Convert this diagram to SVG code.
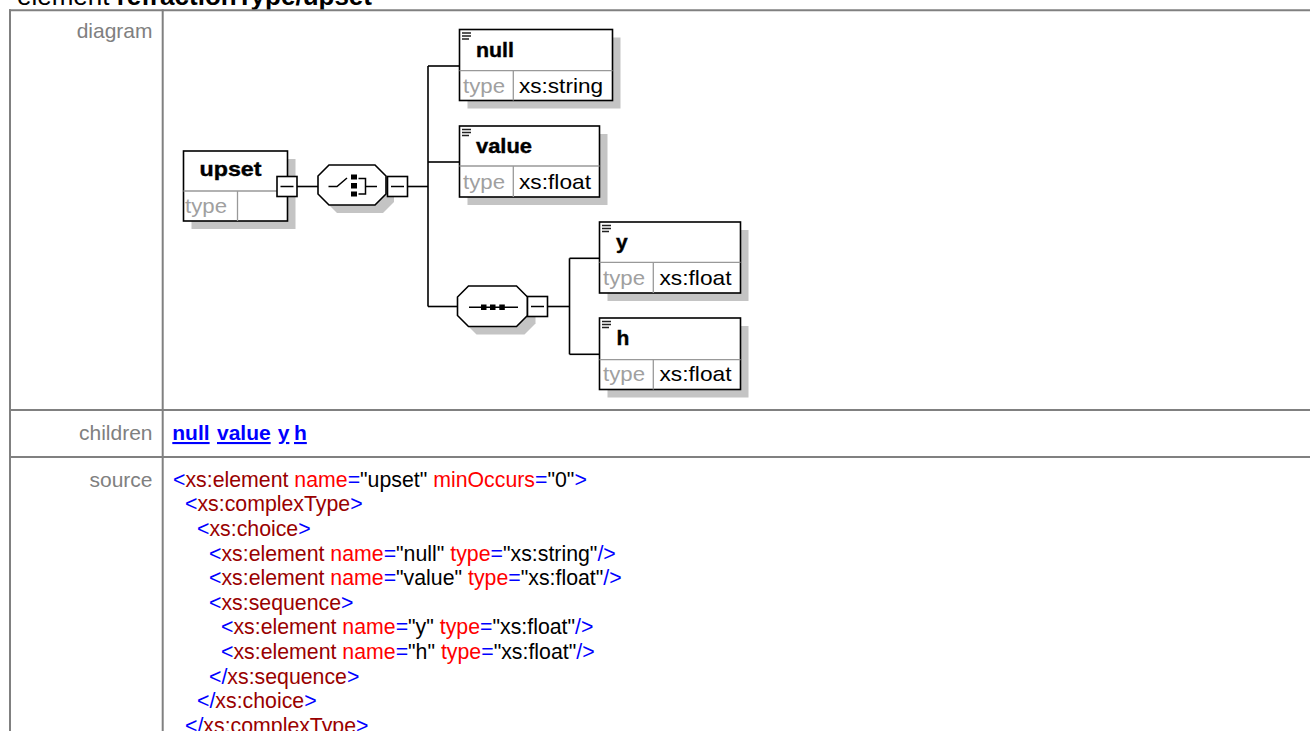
<svg xmlns="http://www.w3.org/2000/svg" width="1310" height="731" viewBox="0 0 1310 731">
  <style>
    .frame { stroke: #808080; stroke-width: 2; fill: none; }
    .label { font-family: "Liberation Sans", Arial, sans-serif; font-size: 21px; fill: #808080; text-anchor: end; }
    .title { font-family: "Liberation Sans", Arial, sans-serif; font-size: 26px; fill: #000; }
    .link { font-family: "Liberation Sans", Arial, sans-serif; font-size: 21px; font-weight: bold; fill: #0000ff; text-decoration: underline; }
    .src { font-family: "Liberation Sans", Arial, sans-serif; font-size: 21.3px; fill: #000; }
    .m { fill: #0000ff; }
    .el { fill: #990000; }
    .at { fill: #ff0000; }
    .shadow { fill: #c4c4c4; stroke: none; }
    .box { fill: #fff; stroke: #000; stroke-width: 1.6; }
    .sep { stroke: #999; stroke-width: 1.3; fill: none; }
    .wire { stroke: #000; stroke-width: 1.6; fill: none; }
    .name { font-family: "Liberation Sans", Arial, sans-serif; font-size: 21px; font-weight: bold; fill: #000; stroke: #000; stroke-width: 0.4; }
    .tkey { font-family: "Liberation Sans", Arial, sans-serif; font-size: 21px; fill: #a0a0a0; }
    .tval { font-family: "Liberation Sans", Arial, sans-serif; font-size: 21px; fill: #000; }
    .icon { stroke: #000; stroke-width: 1.5; fill: none; }
    .doc { stroke: #222; stroke-width: 1.6; fill: none; }
  </style>

  <!-- page heading (scrolled partly out of view) -->
  <text class="title" x="17" y="5"><tspan>element </tspan><tspan font-weight="bold">refractionType/upset</tspan></text>

  <!-- documentation table frame -->
  <g id="table">
    <line class="frame" x1="9" y1="10.3" x2="1310" y2="10.3"/>
    <line class="frame" x1="10" y1="9.3" x2="10" y2="731"/>
    <line class="frame" x1="162.7" y1="9.3" x2="162.7" y2="731"/>
    <line class="frame" x1="9" y1="410" x2="1310" y2="410"/>
    <line class="frame" x1="9" y1="457" x2="1310" y2="457"/>
    <text class="label" x="152.5" y="38.3">diagram</text>
    <text class="label" x="152.5" y="440">children</text>
    <text class="label" x="152.5" y="486.7">source</text>
  </g>

  <!-- connectors -->
  <g id="connectors">
    <line class="wire" x1="297" y1="186.5" x2="318" y2="186.5"/>
    <line class="wire" x1="407.5" y1="186.5" x2="428" y2="186.5"/>
    <line class="wire" x1="428" y1="66" x2="428" y2="306.5"/>
    <line class="wire" x1="428" y1="66" x2="459.5" y2="66"/>
    <line class="wire" x1="428" y1="162" x2="459.5" y2="162"/>
    <line class="wire" x1="428" y1="306.5" x2="457.5" y2="306.5"/>
    <line class="wire" x1="547.5" y1="306.5" x2="569.5" y2="306.5"/>
    <line class="wire" x1="569.5" y1="258.3" x2="569.5" y2="354.3"/>
    <line class="wire" x1="569.5" y1="258.3" x2="599.5" y2="258.3"/>
    <line class="wire" x1="569.5" y1="354.3" x2="599.5" y2="354.3"/>
  </g>

  <!-- root element -->
  <g id="node-upset">
    <rect class="shadow" x="191.5" y="159" width="104" height="70"/>
    <rect class="box" x="183.5" y="151" width="104" height="70"/>
    <line class="sep" x1="183.5" y1="191" x2="287.5" y2="191"/>
    <line class="sep" x1="237.5" y1="191" x2="237.5" y2="221"/>
    <text class="name" x="199.5" y="176" textLength="62" lengthAdjust="spacingAndGlyphs">upset</text>
    <text class="tkey" x="185" y="213" textLength="42" lengthAdjust="spacingAndGlyphs">type</text>
    <rect class="box" x="277" y="176.5" width="20" height="20"/>
    <line class="icon" x1="280.5" y1="186.5" x2="293.5" y2="186.5"/>
  </g>

  <!-- choice compositor -->
  <g id="node-choice">
    <polygon class="shadow" points="337,173 383,173 394,184 394,202 383,213 337,213 326,202 326,184"/>
    <polygon class="box" points="329,165 375,165 386,176 386,194 375,205 329,205 318,194 318,176"/>
    <path class="icon" d="M328.5,186.5 H337 L347,178"/>
    <rect x="351" y="174.5" width="6" height="5" fill="#000"/>
    <rect x="351" y="183" width="6" height="5.5" fill="#000"/>
    <rect x="351" y="191.5" width="6" height="5" fill="#000"/>
    <path class="icon" d="M358.5,178.5 H365.5 V194 H358.5 M365.5,186.5 H377"/>
    <rect class="box" x="387.5" y="176.5" width="20" height="20"/>
    <line class="icon" x1="391" y1="186.5" x2="404" y2="186.5"/>
  </g>

  <!-- element null -->
  <g id="node-null">
    <rect class="shadow" x="467.5" y="37.5" width="153" height="71"/>
    <rect class="box" x="459.5" y="29.5" width="153" height="71"/>
    <line class="sep" x1="459.5" y1="70.7" x2="612.5" y2="70.7"/>
    <line class="sep" x1="513.3" y1="70.7" x2="513.3" y2="100.5"/>
    <path class="doc" d="M462,33 H471 M462,36 H471 M462,39 H469"/>
    <text class="name" x="476" y="57.3" textLength="38" lengthAdjust="spacingAndGlyphs">null</text>
    <text class="tkey" x="463" y="92.5" textLength="42" lengthAdjust="spacingAndGlyphs">type</text>
    <text class="tval" x="519" y="92.5" textLength="84" lengthAdjust="spacingAndGlyphs">xs:string</text>
  </g>

  <!-- element value -->
  <g id="node-value">
    <rect class="shadow" x="467.5" y="134" width="140" height="71"/>
    <rect class="box" x="459.5" y="126" width="140" height="71"/>
    <line class="sep" x1="459.5" y1="166" x2="599.5" y2="166"/>
    <line class="sep" x1="513.3" y1="166" x2="513.3" y2="197"/>
    <path class="doc" d="M462,129.5 H471 M462,132.5 H471 M462,135.5 H469"/>
    <text class="name" x="476" y="153.3" textLength="56" lengthAdjust="spacingAndGlyphs">value</text>
    <text class="tkey" x="463" y="188.5" textLength="42" lengthAdjust="spacingAndGlyphs">type</text>
    <text class="tval" x="519" y="188.5" textLength="72" lengthAdjust="spacingAndGlyphs">xs:float</text>
  </g>

  <!-- sequence compositor -->
  <g id="node-sequence">
    <polygon class="shadow" points="476.5,294 524.5,294 535.5,305 535.5,323.5 524.5,334.5 476.5,334.5 465.5,323.5 465.5,305"/>
    <polygon class="box" points="468.5,286 516.5,286 527.5,297 527.5,315.5 516.5,326.5 468.5,326.5 457.5,315.5 457.5,297"/>
    <line class="icon" x1="469" y1="307.3" x2="518" y2="307.3"/>
    <rect x="481" y="304.5" width="5.5" height="5.5" fill="#000"/>
    <rect x="490" y="304.5" width="5.5" height="5.5" fill="#000"/>
    <rect x="499.3" y="304.5" width="5.5" height="5.5" fill="#000"/>
    <rect class="box" x="527.5" y="296.5" width="20" height="20"/>
    <line class="icon" x1="531" y1="306.5" x2="544" y2="306.5"/>
  </g>

  <!-- element y -->
  <g id="node-y">
    <rect class="shadow" x="607.5" y="230" width="141" height="71"/>
    <rect class="box" x="599.5" y="222" width="141" height="71"/>
    <line class="sep" x1="599.5" y1="262.3" x2="740.5" y2="262.3"/>
    <line class="sep" x1="653.3" y1="262.3" x2="653.3" y2="293"/>
    <path class="doc" d="M602,225.5 H611 M602,228.5 H611 M602,231.5 H609"/>
    <text class="name" x="616" y="249">y</text>
    <text class="tkey" x="603" y="284.5" textLength="42" lengthAdjust="spacingAndGlyphs">type</text>
    <text class="tval" x="659.5" y="284.5" textLength="72" lengthAdjust="spacingAndGlyphs">xs:float</text>
  </g>

  <!-- element h -->
  <g id="node-h">
    <rect class="shadow" x="607.5" y="326" width="141" height="71.5"/>
    <rect class="box" x="599.5" y="318" width="141" height="71.5"/>
    <line class="sep" x1="599.5" y1="359.7" x2="740.5" y2="359.7"/>
    <line class="sep" x1="653.3" y1="359.7" x2="653.3" y2="389.5"/>
    <path class="doc" d="M602,321.5 H611 M602,324.5 H611 M602,327.5 H609"/>
    <text class="name" x="616.5" y="345">h</text>
    <text class="tkey" x="603" y="381" textLength="42" lengthAdjust="spacingAndGlyphs">type</text>
    <text class="tval" x="659.5" y="381" textLength="72" lengthAdjust="spacingAndGlyphs">xs:float</text>
  </g>

  <!-- children links -->
  <g id="children">
    <text class="link" x="172.3" y="440">null</text>
    <text class="link" x="217" y="440">value</text>
    <text class="link" x="277.7" y="440">y</text>
    <text class="link" x="294" y="440">h</text>
  </g>

  <!-- schema source listing -->
  <g id="source" xml:space="preserve">
    <text class="src" x="173" y="486.7"><tspan class="m">&lt;</tspan><tspan class="el">xs:element</tspan> <tspan class="at">name</tspan><tspan class="m">=</tspan>"upset" <tspan class="at">minOccurs</tspan><tspan class="m">=</tspan>"0"<tspan class="m">&gt;</tspan></text>
    <text class="src" x="185" y="511.3"><tspan class="m">&lt;</tspan><tspan class="el">xs:complexType</tspan><tspan class="m">&gt;</tspan></text>
    <text class="src" x="197" y="535.9"><tspan class="m">&lt;</tspan><tspan class="el">xs:choice</tspan><tspan class="m">&gt;</tspan></text>
    <text class="src" x="209" y="560.5"><tspan class="m">&lt;</tspan><tspan class="el">xs:element</tspan> <tspan class="at">name</tspan><tspan class="m">=</tspan>"null" <tspan class="at">type</tspan><tspan class="m">=</tspan>"xs:string"<tspan class="m">/&gt;</tspan></text>
    <text class="src" x="209" y="585.1"><tspan class="m">&lt;</tspan><tspan class="el">xs:element</tspan> <tspan class="at">name</tspan><tspan class="m">=</tspan>"value" <tspan class="at">type</tspan><tspan class="m">=</tspan>"xs:float"<tspan class="m">/&gt;</tspan></text>
    <text class="src" x="209" y="609.7"><tspan class="m">&lt;</tspan><tspan class="el">xs:sequence</tspan><tspan class="m">&gt;</tspan></text>
    <text class="src" x="221" y="634.3"><tspan class="m">&lt;</tspan><tspan class="el">xs:element</tspan> <tspan class="at">name</tspan><tspan class="m">=</tspan>"y" <tspan class="at">type</tspan><tspan class="m">=</tspan>"xs:float"<tspan class="m">/&gt;</tspan></text>
    <text class="src" x="221" y="658.9"><tspan class="m">&lt;</tspan><tspan class="el">xs:element</tspan> <tspan class="at">name</tspan><tspan class="m">=</tspan>"h" <tspan class="at">type</tspan><tspan class="m">=</tspan>"xs:float"<tspan class="m">/&gt;</tspan></text>
    <text class="src" x="209" y="683.5"><tspan class="m">&lt;/</tspan><tspan class="el">xs:sequence</tspan><tspan class="m">&gt;</tspan></text>
    <text class="src" x="197" y="708.1"><tspan class="m">&lt;/</tspan><tspan class="el">xs:choice</tspan><tspan class="m">&gt;</tspan></text>
    <text class="src" x="185" y="732.7"><tspan class="m">&lt;/</tspan><tspan class="el">xs:complexType</tspan><tspan class="m">&gt;</tspan></text>
  </g>
</svg>
